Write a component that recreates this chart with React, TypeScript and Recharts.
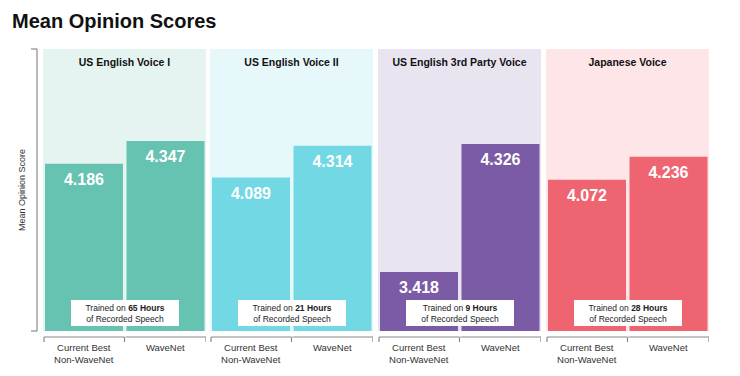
import React from 'react'
import { BarChart, Bar, XAxis, YAxis, ReferenceArea, Label, LabelList } from 'recharts'

// values
const voices = ['US English Voice I', 'US English Voice II', 'US English 3rd Party Voice', 'Japanese Voice']
const systems = ['Current Best Non-WaveNet', 'WaveNet']
const systemTickLines = [['Current Best', 'Non-WaveNet'], ['WaveNet']]
const nonWaveNetScores = [4.186, 4.089, 3.418, 4.072]
const waveNetScores = [4.347, 4.314, 4.326, 4.236]
const trainingHours = [65, 21, 9, 28]
const scoreDomain = [3, 5]
const scoreTicks = [3, 5]

const barColors = ['#66c3b1', '#72d8e3', '#7b5aa6', '#ef6471']
const panelColors = ['#e5f4f1', '#e7f8fa', '#e8e4f0', '#fde5e8']
const panelLefts = [43, 210, 378, 546]

const FONT = '"Liberation Sans", Arial, Helvetica, sans-serif'
const CHART_H = 376
const PANEL_W = 163
const BAR_GAP = 2
const MARGIN = { top: 49, right: 0, bottom: 5, left: 0 }
const AXIS_GRAY = '#8a8a8a'

// x axis tick: draws its own bracket segment under the plot plus the label
function SystemTick(props: any) {
  const { x, y, payload, index } = props
  const half = payload && payload.offset ? payload.offset : 40.75
  const lines = systemTickLines[index] || [String(payload.value)]
  return (
    <g>
      <line x1={x - half + 1} x2={x + half} y1={y} y2={y} stroke={AXIS_GRAY} strokeWidth={1.2} />
      {index === 0 && (
        <line x1={x - half + 1} x2={x - half + 1} y1={y} y2={y + 5} stroke={AXIS_GRAY} strokeWidth={1.2} />
      )}
      <line x1={x + half} x2={x + half} y1={y} y2={y + 5} stroke={AXIS_GRAY} strokeWidth={1.2} />
      <text x={x} y={y + 13.5} textAnchor="middle" fontSize={9.5} fill="#333">
        {lines.map((l, i) => (
          <tspan key={i} x={x} dy={i === 0 ? 0 : 12}>{l}</tspan>
        ))}
      </text>
    </g>
  )
}

// white note box, hung off the first bar so it sits above both bars
function hoursBox(hours: number) {
  return (props: any) => {
    if (props.index !== 0) return null
    const x = Number(props.x)
    const w = Number(props.width)
    const cx = x + w + BAR_GAP
    const bottom = Number(props.y) + Number(props.height) - 5
    return (
      <g>
        <rect x={cx - 54} y={bottom - 26} width={108} height={26} fill="#fff" />
        <text x={cx} y={bottom - 15} textAnchor="middle" fontSize={8.5} fill="#222">
          Trained on <tspan fontWeight="bold">{hours} Hours</tspan>
        </text>
        <text x={cx} y={bottom - 4.5} textAnchor="middle" fontSize={8.5} fill="#222">
          of Recorded Speech
        </text>
      </g>
    )
  }
}

function Panel({ i }: { i: number }) {
  const data = systems.map((s, k) => ({
    system: s,
    score: k === 0 ? nonWaveNetScores[i] : waveNetScores[i],
  }))
  return (
    <div style={{ position: 'absolute', left: panelLefts[i], top: 0 }}>
      <BarChart width={PANEL_W} height={CHART_H} data={data} margin={MARGIN} barCategoryGap={BAR_GAP} style={{ overflow: 'visible' }}>
        <XAxis
          dataKey="system"
          height={40}
          axisLine={false}
          tickLine={false}
          tickSize={6}
          tickMargin={0}
          interval={0}
          tick={<SystemTick />}
        />
        <YAxis hide type="number" domain={scoreDomain} allowDataOverflow />
        <ReferenceArea y1={scoreDomain[0]} y2={scoreDomain[1]} fill={panelColors[i]} fillOpacity={1} stroke="none">
          <Label value={voices[i]} position="insideTop" offset={10} fontSize={10.5} fontWeight="bold" fill="#111" />
        </ReferenceArea>
        <Bar dataKey="score" fill={barColors[i]} isAnimationActive={false}>
          <LabelList
            dataKey="score"
            position="insideTop"
            offset={10}
            fill="#fff"
            fontSize={16}
            fontWeight="bold"
            formatter={(v: any) => Number(v).toFixed(3)}
          />
          <LabelList dataKey="score" content={hoursBox(trainingHours[i])} />
        </Bar>
      </BarChart>
    </div>
  )
}

export default function App() {
  const axisData = systems.map((s, k) => ({ system: s, score: waveNetScores[k] }))
  return (
    <div style={{ position: 'absolute', left: 0, top: 0, width: 740, height: 376, background: '#fff', fontFamily: FONT, overflow: 'hidden' }}>
      <div style={{ position: 'absolute', left: 12, top: 10, fontSize: 20, lineHeight: '23px', fontWeight: 'bold', color: '#111' }}>
        Mean Opinion Scores
      </div>
      <div style={{ position: 'absolute', left: 0, top: 0 }}>
        <BarChart width={38} height={CHART_H} data={axisData} margin={{ top: 49, right: 0, bottom: 45, left: 7 }} style={{ overflow: 'visible' }}>
          <XAxis dataKey="system" hide />
          <YAxis
            type="number"
            domain={scoreDomain}
            ticks={scoreTicks}
            width={30}
            tickSize={6}
            tickFormatter={() => ''}
            stroke={AXIS_GRAY}
            axisLine={{ stroke: AXIS_GRAY, strokeWidth: 1.2 }}
            tickLine={{ stroke: AXIS_GRAY, strokeWidth: 1.2 }}
            label={{ value: 'Mean Opinion Score', angle: -90, position: 'center', fontSize: 9, fill: '#333' }}
          />
          <Bar dataKey="score" fill="transparent" isAnimationActive={false} />
        </BarChart>
      </div>
      {voices.map((_, i) => (
        <Panel key={i} i={i} />
      ))}
    </div>
  )
}
